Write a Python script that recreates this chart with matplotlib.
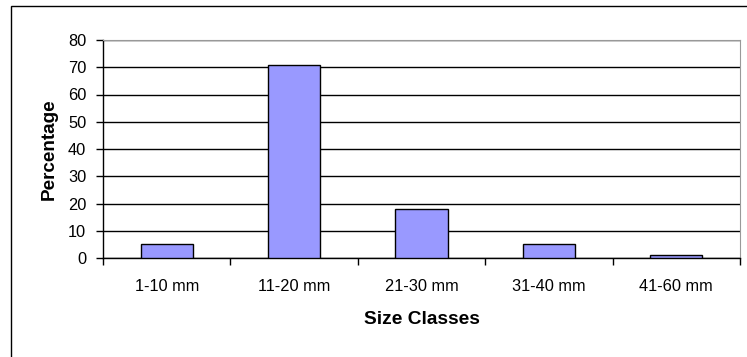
import matplotlib
matplotlib.use("Agg")
import matplotlib.pyplot as plt
from matplotlib.patches import Rectangle

categories = ["1-10 mm", "11-20 mm", "21-30 mm", "31-40 mm", "41-60 mm"]
values = [5, 71, 18, 5, 1.2]
yticks = [0, 10, 20, 30, 40, 50, 60, 70, 80]

plt.rcParams['font.family'] = ['Liberation Sans', 'DejaVu Sans']

W, H = 747, 357
fig = plt.figure(figsize=(W/100, H/100), dpi=100)
L, R, T, B = 103, 740, 40, 258
ax = fig.add_axes([L/W, 1 - B/H, (R-L)/W, (B-T)/H])

x = list(range(len(categories)))
ax.bar(x, values, width=0.41, color="#9999FF", edgecolor="black", linewidth=1.0, zorder=3)
ax.set_xlim(-0.5, len(categories) - 0.5)
ax.set_ylim(0, 80)
ax.set_yticks(yticks)
ax.yaxis.grid(True, color="black", linewidth=1.0, zorder=0)
ax.set_axisbelow(True)

ax.set_xticks([i + 0.5 for i in range(-1, len(categories))])
ax.set_xticklabels([])
ax.set_xticks(x, minor=True)
ax.set_xticklabels(categories, minor=True, fontsize=11.8)
ax.tick_params(axis='x', which='minor', length=0, pad=15)
ax.tick_params(axis='x', which='major', length=5, direction='out', width=1)
ax.tick_params(axis='y', length=5, direction='out', width=1, labelsize=11.8, pad=7)

for s in ['top', 'right']:
    ax.spines[s].set_color('#999999')
for s in ['left', 'bottom']:
    ax.spines[s].set_color('black')
    ax.spines[s].set_linewidth(1.0)

ax.set_xlabel("Size Classes", fontsize=13.8, fontweight='bold', labelpad=12)
ax.set_ylabel("Percentage", fontsize=13.6, fontweight='bold', labelpad=7)

fig.patches.append(Rectangle((11/W, -0.1), 1.0, 1.1 - 6/H,
                             transform=fig.transFigure, fill=False,
                             edgecolor='black', linewidth=1.0, clip_on=False))

fig.savefig("out.png", dpi=100)
